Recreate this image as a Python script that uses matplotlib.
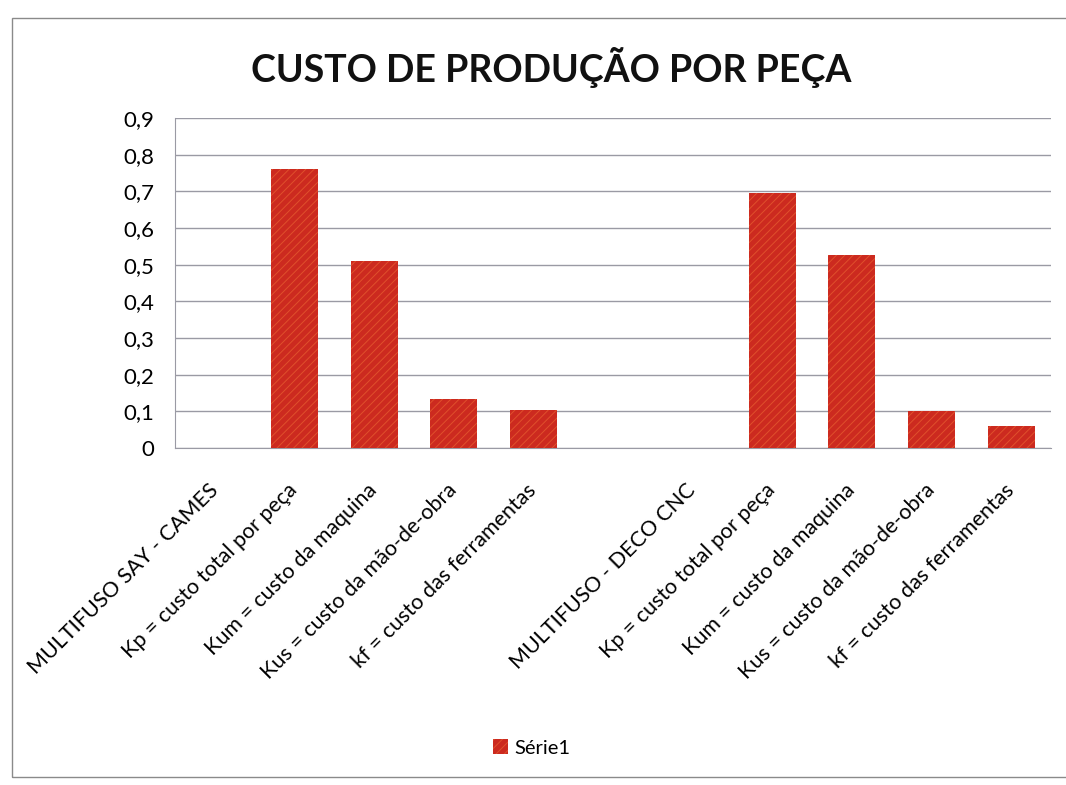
import matplotlib
matplotlib.use("Agg")
import matplotlib.pyplot as plt
from matplotlib.patches import Rectangle

categories = [
    "MULTIFUSO SAY - CAMES",
    "Kp = custo total por peça",
    "Kum = custo da maquina",
    "Kus = custo da mão-de-obra",
    "kf = custo das ferramentas",
    "",
    "MULTIFUSO - DECO CNC",
    "Kp = custo total por peça",
    "Kum = custo da maquina",
    "Kus = custo da mão-de-obra",
    "kf = custo das ferramentas",
]
values = [0, 0.76, 0.51, 0.135, 0.105, 0, 0, 0.695, 0.525, 0.10, 0.06]
yticks = [0, 0.1, 0.2, 0.3, 0.4, 0.5, 0.6, 0.7, 0.8, 0.9]
ytick_labels = ["0", "0,1", "0,2", "0,3", "0,4", "0,5", "0,6", "0,7", "0,8", "0,9"]
title = "CUSTO DE PRODUÇÃO POR PEÇA"
series_name = "Série1"

plt.rcParams['font.family'] = ['Lato', 'DejaVu Sans']
plt.rcParams['hatch.linewidth'] = 0.7

W, H = 1066, 785
fig = plt.figure(figsize=(W / 100, H / 100), dpi=100)
fig.patch.set_facecolor('white')

# outer chart border
fig.add_artist(Rectangle((12 / W, 1 - 777 / H), (W + 20) / W, (777 - 18) / H,
                         transform=fig.transFigure, fill=False,
                         edgecolor='#8a8a8a', linewidth=1.0))

left, right = 175 / W, 1051 / W
bottom, top = 1 - 448 / H, 1 - 118 / H
ax = fig.add_axes([left, bottom, right - left, top - bottom])

x = list(range(len(categories)))
bars = ax.bar(x, values, width=0.59, color='#CC2A1F', edgecolor='#E0502C',
              linewidth=0, hatch='////', label=series_name, zorder=3)

ax.set_xlim(-0.5, len(categories) - 0.5)
ax.set_ylim(0, 0.9)
ax.set_yticks(yticks)
ax.set_yticklabels(ytick_labels, fontsize=16)
ax.yaxis.grid(True, color='#9a9aa4', linewidth=1.0, zorder=0)
ax.set_axisbelow(True)

ax.set_xticks(x)
ax.set_xticklabels(categories, rotation=45, ha='right', va='center',
                   rotation_mode='anchor', fontsize=15.5)
ax.tick_params(axis='y', length=0, pad=15)
ax.tick_params(axis='x', length=0, pad=28)

for s in ['top', 'right']:
    ax.spines[s].set_visible(False)
ax.spines['left'].set_color('#9a9aa4')
ax.spines['bottom'].set_color('#9a9aa4')

fig.text(551 / W, 1 - 68 / H, title, ha='center', va='center',
         fontsize=27, fontweight='bold', color='#111111')

leg = fig.legend(handles=[bars], labels=[series_name], loc='center',
                 bbox_to_anchor=(532 / W, 1 - 748 / H), frameon=False,
                 fontsize=14.5, handlelength=0.7, handleheight=0.7,
                 handletextpad=0.35)

fig.savefig("out.png", dpi=100, facecolor='white')
